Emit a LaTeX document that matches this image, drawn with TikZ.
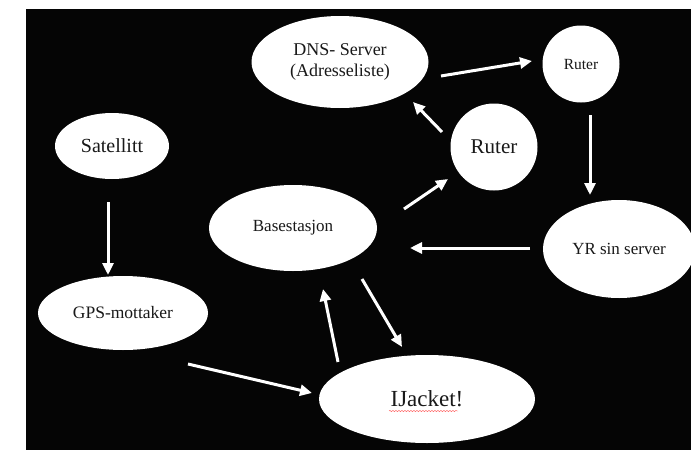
\documentclass[tikz,border=0pt]{standalone}
\usepackage{fontspec}
\setmainfont{Liberation Serif}
\usetikzlibrary{arrows.meta,calc,decorations.pathmorphing,shapes.geometric}

\tikzset{
  blob/.style={ellipse, fill=white, draw=none, inner sep=0pt, text=black!90, align=center},
  disc/.style={circle, fill=white, draw=none, inner sep=0pt, text=black!90},
  flow/.style={draw=white, line width=3pt, -{Triangle[length=12pt,width=11pt]}},
}

\begin{document}
\begin{tikzpicture}[x=1pt,y=-1pt]
  % page and dark backdrop
  \fill[white] (0,0) rectangle (691,450);
  \useasboundingbox (0,0) rectangle (691,450);
  \fill[black!98] (26,9) rectangle (691,450);

  % nodes
  \node[blob, minimum width=114pt, minimum height=66pt, font=\fontsize{20}{22}\selectfont]
    (sat) at (112,146) {Satellitt};
  \node[blob, minimum width=170pt, minimum height=74pt, font=\fontsize{17.5}{20}\selectfont]
    (gps) at (123,313) {GPS-mottaker};
  \node[blob, minimum width=168pt, minimum height=86pt, font=\fontsize{17}{20}\selectfont]
    (base) at (293,228) {Basestasjon};
  \node[blob, minimum width=177pt, minimum height=92pt, font=\fontsize{18}{21}\selectfont]
    (dns) at (340,62) {DNS- Server\\(Adresseliste)};
  \node[disc, minimum size=77pt, font=\fontsize{15.5}{18}\selectfont]
    (rut1) at (581,64) {Ruter};
  \node[disc, minimum size=87pt, font=\fontsize{21}{24}\selectfont]
    (rut2) at (494,147) {Ruter};
  \node[blob, minimum width=152pt, minimum height=98pt, font=\fontsize{17}{20}\selectfont]
    (yr) at (619,249) {YR sin server};
  \node[blob, minimum width=216pt, minimum height=88pt, font=\fontsize{23}{26}\selectfont]
    (jacket) at (427,399) {IJacket!};

  % spell-check squiggle under the jacket label
  \draw[red!70!white, line width=0.4pt, decorate,
        decoration={snake, amplitude=0.6pt, segment length=3pt}]
    ($(jacket)+(-38,12)$) -- ($(jacket)+(31,12)$);

  % connectors
  \draw[flow] ($(sat)+(-4,56)$) -- ($(gps)+(-15,-38)$);
  \draw[flow] ($(gps)+(65,51)$) -- ($(jacket)+(-115,-6)$);
  \draw[flow] ($(jacket)+(-89,-37)$) -- ($(base)+(30,61)$);
  \draw[flow] ($(base)+(69,51)$) -- ($(jacket)+(-25,-52)$);
  \draw[flow] ($(base)+(111,-19)$) -- ($(rut2)+(-46,32)$);
  \draw[flow] ($(yr)+(-89,-1)$) -- ($(base)+(117,20)$);
  \draw[flow] ($(rut2)+(-52,-15)$) -- ($(dns)+(73,40)$);
  \draw[flow] ($(dns)+(101,14)$) -- ($(rut1)+(-49,-3)$);
  \draw[flow] ($(rut1)+(9,51)$) -- ($(yr)+(-29,-54)$);
\end{tikzpicture}
\end{document}
